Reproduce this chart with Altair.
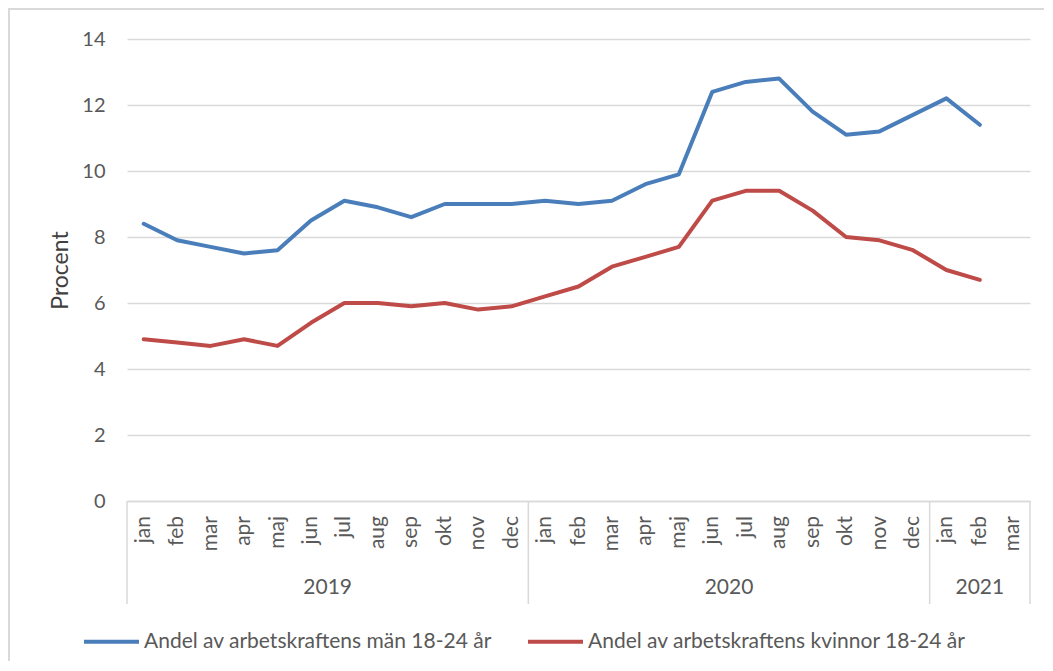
import altair as alt
import pandas as pd

# ---- data -------------------------------------------------------------
months = ["jan", "feb", "mar", "apr", "maj", "jun", "jul", "aug", "sep", "okt", "nov", "dec",
          "jan", "feb", "mar", "apr", "maj", "jun", "jul", "aug", "sep", "okt", "nov", "dec",
          "jan", "feb", "mar"]
years = ["2019", "2020", "2021"]
year_start = [0, 12, 24]
year_len = [12, 12, 3]

men = [8.4, 7.9, 7.7, 7.5, 7.6, 8.5, 9.1, 8.9, 8.6, 9.0, 9.0, 9.0,
       9.1, 9.0, 9.1, 9.6, 9.9, 12.4, 12.7, 12.8, 11.8, 11.1, 11.2, 11.7,
       12.2, 11.4]
women = [4.9, 4.8, 4.7, 4.9, 4.7, 5.4, 6.0, 6.0, 5.9, 6.0, 5.8, 5.9,
         6.2, 6.5, 7.1, 7.4, 7.7, 9.1, 9.4, 9.4, 8.8, 8.0, 7.9, 7.6,
         7.0, 6.7]

series_names = ["Andel av arbetskraftens män 18-24 år",
                "Andel av arbetskraftens kvinnor 18-24 år"]
colors = ["#4A7EBB", "#BE4B48"]
y_ticks = [0, 2, 4, 6, 8, 10, 12, 14]

# ---- tables -----------------------------------------------------------
rows = []
for name, vals in zip(series_names, [men, women]):
    for i, v in enumerate(vals):
        rows.append({"i": i, "value": v, "serie": name})
df = pd.DataFrame(rows)

df_months = pd.DataFrame({"i": list(range(len(months))), "m": months})
bounds = [s - 0.5 for s in year_start] + [year_start[-1] + year_len[-1] - 0.5]
df_bounds = pd.DataFrame({"b": bounds})
df_years = pd.DataFrame({
    "year": years,
    "mid": [s + n / 2 - 0.5 for s, n in zip(year_start, year_len)],
})

W, H = 903, 462
PAD = {"left": 119, "top": 31, "right": 14, "bottom": 160}
GRAY = "#595959"
LINEGRAY = "#d9d9d9"
FONT = "Lato"

xscale = alt.Scale(domain=[-0.5, len(months) - 0.5], nice=False, zero=False)
yscale = alt.Scale(domain=[0, 14], nice=False)

lines = alt.Chart(df).mark_line(strokeWidth=4, strokeJoin="round", strokeCap="round").encode(
    x=alt.X("i:Q", scale=xscale,
            axis=alt.Axis(labels=False, ticks=False, grid=False,
                          domainColor=LINEGRAY, domainWidth=1.5, title=None)),
    y=alt.Y("value:Q", scale=yscale,
            axis=alt.Axis(values=y_ticks, grid=True, gridColor=LINEGRAY, gridWidth=1.5,
                          domain=False, ticks=False, labelPadding=22, labelFontSize=20,
                          labelColor=GRAY, title="Procent", titleFontSize=23,
                          titleFontWeight="normal", titleColor="#404040",
                          titleAngle=270, titleX=-67, titleY=H / 2,
                          titleAlign="center", titleBaseline="middle")),
    color=alt.Color("serie:N",
                    scale=alt.Scale(domain=series_names, range=colors),
                    legend=alt.Legend(orient="none", legendX=-45, legendY=573,
                                      direction="horizontal", symbolType="stroke",
                                      symbolSize=3025, symbolStrokeWidth=4,
                                      labelFontSize=21, labelColor=GRAY, labelLimit=0,
                                      columnPadding=28, labelOffset=3, title=None)),
    order="i:Q",
)

month_text = alt.Chart(df_months).mark_text(fontSize=21, color=GRAY, angle=270,
                                            align="right", baseline="middle").encode(
    x=alt.X("i:Q", scale=xscale),
    y=alt.value(H + 15),
    text="m:N",
)

seps = alt.Chart(df_bounds).mark_rule(color=LINEGRAY, strokeWidth=1.5).encode(
    x=alt.X("b:Q", scale=xscale),
    y=alt.value(H),
    y2=alt.value(H + 103),
)

year_text = alt.Chart(df_years).mark_text(fontSize=21, color=GRAY, baseline="middle",
                                          align="center").encode(
    x=alt.X("mid:Q", scale=xscale),
    y=alt.value(H + 87),
    text="year:N",
)

border = alt.Chart(alt.Data(values=[{"k": 1}])).mark_rect(
    fill=None, stroke=LINEGRAY, strokeWidth=2).encode(
    x=alt.value(-PAD["left"] + 1),
    x2=alt.value(W + PAD["right"] + 10),
    y=alt.value(-PAD["top"] + 1),
    y2=alt.value(H + PAD["bottom"] + 10),
)

chart = alt.layer(border, seps, month_text, year_text, lines).properties(
    width=W, height=H,
    autosize=alt.AutoSizeParams(type="none"),
    padding=PAD,
).configure(font=FONT).configure_view(stroke=None)

chart.save("out.html", embed_options={"renderer": "svg", "actions": False})
